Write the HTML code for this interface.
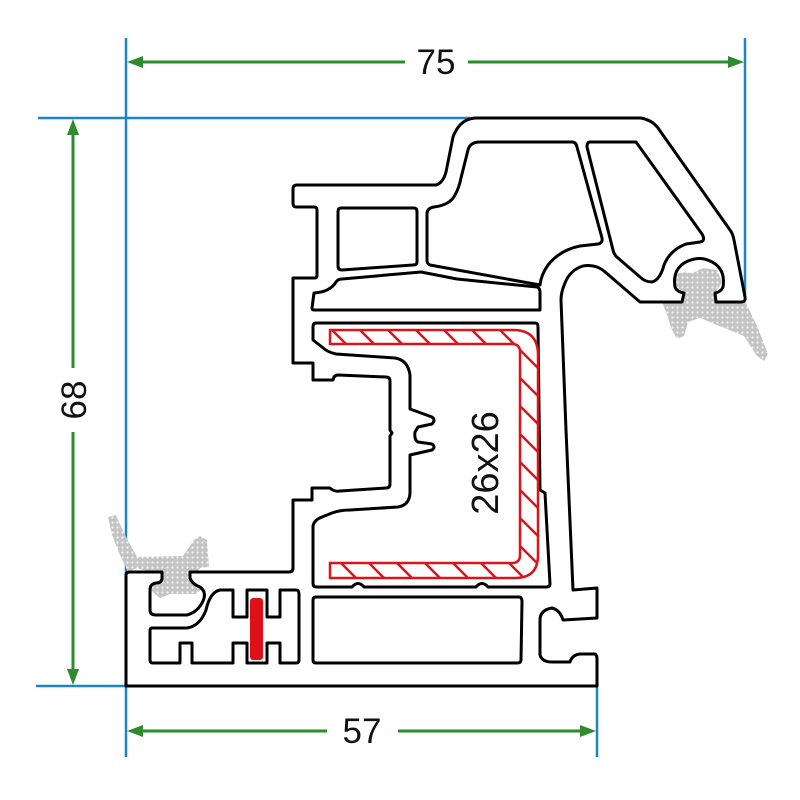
<!DOCTYPE html>
<html><head><meta charset="utf-8"><style>
html,body{margin:0;padding:0;background:#fff;width:800px;height:800px;overflow:hidden}
svg{display:block}
text{font-family:"Liberation Sans",sans-serif;fill:#111}
</style></head><body>
<svg width="800" height="800" viewBox="0 0 800 800" xmlns="http://www.w3.org/2000/svg">
<defs>
<pattern id="dots" width="5" height="5" patternUnits="userSpaceOnUse">
<rect width="5" height="5" fill="#c4c4c4"/><circle cx="2.5" cy="2.5" r="1.1" fill="#f6f6f6"/>
</pattern>
<clipPath id="steelclip">
<path d="M330,330 L513,330 Q538,330 538,355 L538,555 Q538,578 515,578 L330,578 L330,563 L512,563 Q520,563 520,555 L520,352 Q520,344 512,344 L330,344 Z"/>
</clipPath>
</defs>

<g stroke="#1a86c8" stroke-width="2.5" fill="none">
<line x1="126" y1="38" x2="126" y2="757"/>
<line x1="745" y1="38" x2="745" y2="300"/>
<line x1="597" y1="655" x2="597" y2="757"/>
<line x1="38" y1="118" x2="470" y2="118"/>
<line x1="36" y1="686" x2="126" y2="686"/>
</g>
<g stroke="#2e8b2e" stroke-width="3" fill="none">
<line x1="138" y1="62" x2="405" y2="62"/>
<line x1="468" y1="62" x2="733" y2="62"/>
<line x1="73" y1="130" x2="73" y2="368"/>
<line x1="73" y1="432" x2="73" y2="674"/>
<line x1="138" y1="731" x2="327" y2="731"/>
<line x1="398" y1="731" x2="585" y2="731"/>
</g>
<g fill="#2e8b2e">
<polygon points="127,62 143,56 143,68"/>
<polygon points="744,62 728,56 728,68"/>
<polygon points="73,119 67,135 79,135"/>
<polygon points="73,685 67,669 79,669"/>
<polygon points="127,731 143,725 143,737"/>
<polygon points="596,731 580,725 580,737"/>
</g>
<text x="436" y="74" font-size="35" text-anchor="middle">75</text>
<text x="362" y="743" font-size="35" text-anchor="middle">57</text>
<text transform="translate(86,400) rotate(-90)" font-size="35" text-anchor="middle">68</text>

<path fill="url(#dots)" d="M108,517 L116,515 L124,533 L137,557 L183,556 L194,540 L200,536 L207,540 L209,567 L200,568 L194,577 L203,588 L196,594 L170,594 L160,598 L150,590 L150,582 L160,578 L150,572 L137,568 L128,572 L120,555 L112,535 Z"/>
<path fill="url(#dots)" d="M670,290 L673,276 L682,272 L693,273 L703,268 L717,270 L722,282 L716,292 L722,302 L745,301 L757,326 L768,354 L764,361 L757,356 L744,336 L700,318 L688,322 L684,336 L677,339 L672,330 L666,312 L662,302 L676,296 Z"/>

<g stroke="#000" stroke-width="3" stroke-linejoin="round" fill="none">
<path fill="#fff" d="M126,686 L126,575 Q126,572 130,572 L162,572 L162,578 Q162,583 156,583 Q150,584 150,590 L150,610 Q150,615 156,615 L187,615 Q198,612 203,601 Q207,592 200,587 Q192,584 190,578 L190,572 L289,572 Q293,572 293,568 L293,500 L312,500 L312,488 L330,488 Q334,492 340,491 L386,488 Q390,488 390,484 L390,436 L392,433 L390,430 L390,381 Q390,377 386,377 L338,375 Q334,375 333,380 L313,380 L313,363 L293,363 L293,278 L315,278 Q317,278 317,275 L317,210 Q317,207 314,207 L296,207 Q293,207 293,203 L293,189 Q293,185 297,185 L436,185 Q443,183 446,172 L453,137 Q460,118 477,118 L641,118 Q652,120 658,128 L730,230 Q733,234 734,240 L745,297 Q746,302 741,302 L716,302 L715,293 Q721,292 723,287 Q726,268 710,261 Q700,256 688,261 Q672,268 675,287 Q677,292 684,293 L682,302 L640,302 L604,271 Q595,264 583,266 Q570,270 565,283 Q561,292 561,300 L566,430 L573,590 L597,588 L597,618 L563,620 Q560,610 552,608 Q540,610 540,620 L540,655 Q542,662 552,662 L570,662 Q572,655 580,654 L595,654 Q597,655 597,660 L597,686 Z"/>
<path d="M341,208 L414,208 Q417,208 417,212 L417,262 Q417,265 413,265 L342,270 Q338,270 338,266 L338,212 Q338,208 341,208 Z"/>
<path d="M480,142 L572,142 Q576,142 577,147 L602,238 Q603,243 598,244 L580,246 Q560,250 548,265 Q541,275 540,285 L430,265 Q427,264 427,260 L427,214 Q427,208 434,207 Q450,205 455,195 Q459,188 461,178 L468,150 Q470,142 480,142 Z"/>
<path d="M590,142 L636,142 L702,234 Q706,241 700,242 L686,244 Q670,250 664,265 Q660,280 652,282 Q645,282 640,277 L618,258 Q614,255 613,250 L587,147 Q587,142 590,142 Z"/>
<path d="M314,293 Q330,292 336,282 Q338,279 342,279 L421,272 L457,279 L537,287 Q540,288 540,292 L540,310 L314,310 Q312,310 312,308 Z"/>
<path fill="#fff" d="M316,323 L535,323 Q538,323 538,327 L540,490 L545,493 L550,584 Q550,587 546,587 L488,587 Q482,580 476,587 L364,587 Q358,580 352,587 L316,587 Q313,587 313,583 L313,526 Q314,520 322,517 L332,513 Q340,510 350,510 L398,507 Q410,505 410,492 L410,455 L432,450 Q436,447 432,444 L418,442 Q414,440 415,432 L418,427 L432,424 Q436,420 432,417 L410,409 L410,375 Q408,360 395,358 L336,354 Q327,352 322,347 L313,340 L313,327 Q313,323 316,323 Z"/>
<path d="M316,597 L519,597 Q522,597 522,602 L521,660 Q521,663 517,663 L316,663 Q313,663 313,660 L313,600 Q313,597 316,597 Z"/>
<path d="M152,628 L187,628 Q200,626 206,610 Q210,592 220,590 L233,590 L233,617 L247,617 L247,590 L267,590 L267,617 L280,617 L280,590 L296,590 Q299,590 299,594 L299,660 Q299,663 296,663 L280,663 L280,643 L267,643 L267,663 L247,663 L247,643 L233,643 L233,663 L192,663 L192,643 L180,643 L180,663 L153,663 Q150,663 150,660 L150,631 Q150,628 152,628 Z"/>
</g>
<rect x="250" y="598" width="13" height="62" rx="3" fill="#e0101a"/>

<g clip-path="url(#steelclip)" stroke="#d9141b" stroke-width="2.5">
<path fill="#fff" stroke="none" d="M330,330 L513,330 Q538,330 538,355 L538,555 Q538,578 515,578 L330,578 L330,563 L512,563 Q520,563 520,555 L520,352 Q520,344 512,344 L330,344 Z"/>
<line x1="50" y1="300" x2="350" y2="600"/>
<line x1="78" y1="300" x2="378" y2="600"/>
<line x1="106" y1="300" x2="406" y2="600"/>
<line x1="134" y1="300" x2="434" y2="600"/>
<line x1="162" y1="300" x2="462" y2="600"/>
<line x1="190" y1="300" x2="490" y2="600"/>
<line x1="218" y1="300" x2="518" y2="600"/>
<line x1="246" y1="300" x2="546" y2="600"/>
<line x1="274" y1="300" x2="574" y2="600"/>
<line x1="302" y1="300" x2="602" y2="600"/>
<line x1="330" y1="300" x2="630" y2="600"/>
<line x1="358" y1="300" x2="658" y2="600"/>
<line x1="386" y1="300" x2="686" y2="600"/>
<line x1="414" y1="300" x2="714" y2="600"/>
<line x1="442" y1="300" x2="742" y2="600"/>
<line x1="470" y1="300" x2="770" y2="600"/>
<line x1="498" y1="300" x2="798" y2="600"/>
<line x1="526" y1="300" x2="826" y2="600"/>
<line x1="22" y1="300" x2="322" y2="600"/>
<line x1="-6" y1="300" x2="294" y2="600"/>
<line x1="-34" y1="300" x2="266" y2="600"/>
<line x1="-62" y1="300" x2="238" y2="600"/>
<line x1="-90" y1="300" x2="210" y2="600"/>
</g>
<path fill="none" stroke="#d9141b" stroke-width="2.5" d="M330,330 L513,330 Q538,330 538,355 L538,555 Q538,578 515,578 L330,578 L330,563 L512,563 Q520,563 520,555 L520,352 Q520,344 512,344 L330,344 Z"/>
<text transform="translate(498,463) rotate(-90)" font-size="38" text-anchor="middle">26x26</text>
</svg>
</body></html>
